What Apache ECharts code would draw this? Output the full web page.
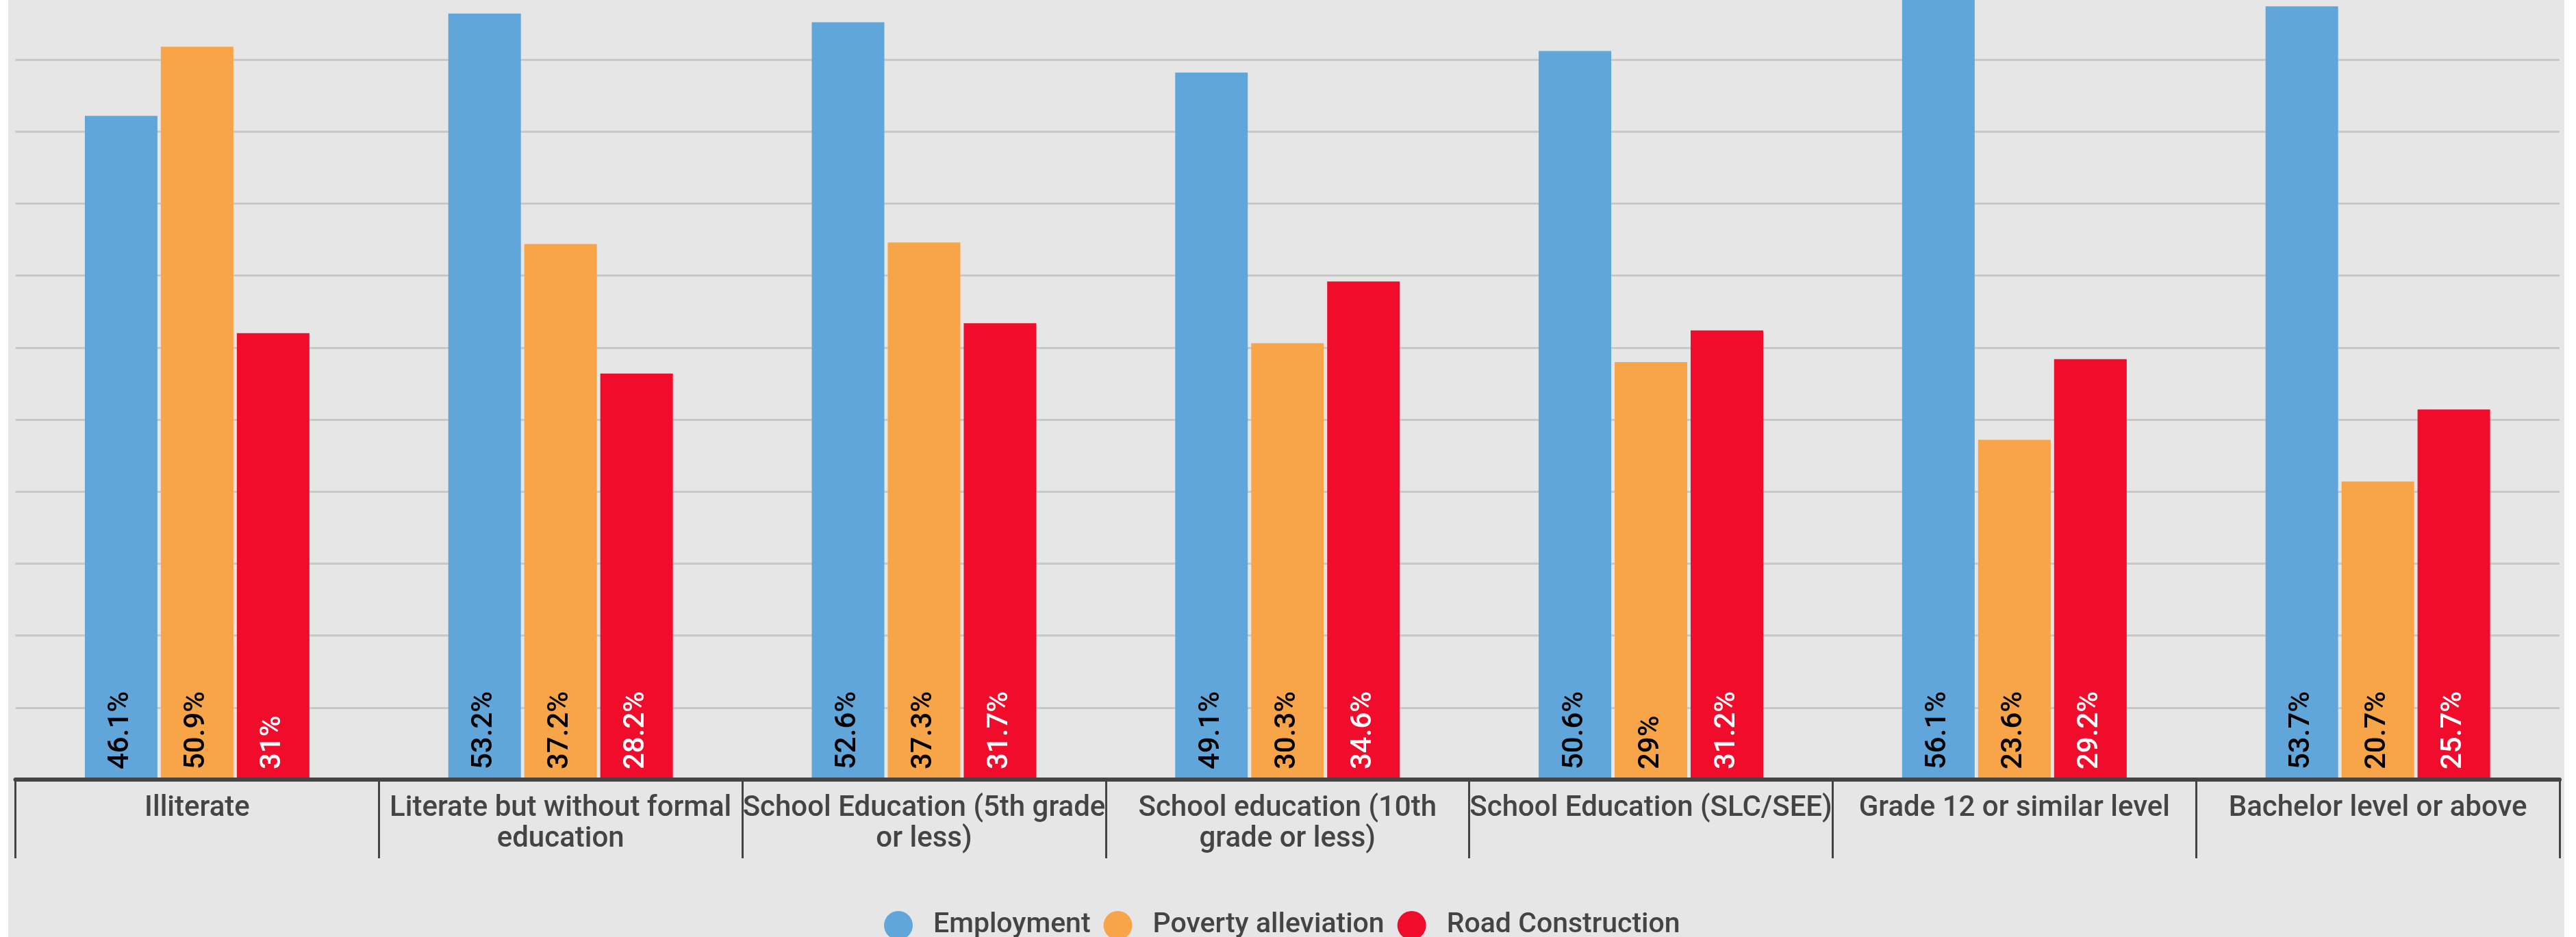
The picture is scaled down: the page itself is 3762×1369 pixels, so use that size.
<!DOCTYPE html>
<html>
<head>
<meta charset="utf-8">
<script src="https://cdn.jsdelivr.net/npm/echarts@6/dist/echarts.min.js"></script>
<style>
html,body{margin:0;padding:0;background:#ffffff;width:3762px;height:1369px;overflow:hidden;position:relative}
#c{position:absolute;left:12px;top:-18px;width:3733px;height:1387px}
</style>
</head>
<body>
<div id="c"></div>
<script>
// Category labels (as wrapped in the original)
const categories = [
  'Illiterate',
  'Literate but without formal\neducation',
  'School Education (5th grade\nor less)',
  'School education (10th\ngrade or less)',
  'School Education (SLC/SEE)',
  'Grade 12 or similar level',
  'Bachelor level or above'
];
const seriesNames = ['Employment', 'Poverty alleviation', 'Road Construction'];
const employment = [46.1, 53.2, 52.6, 49.1, 50.6, 56.1, 53.7];
const povertyAlleviation = [50.9, 37.2, 37.3, 30.3, 29, 23.6, 20.7];
const roadConstruction = [31, 28.2, 31.7, 34.6, 31.2, 29.2, 25.7];

const colors = ['#60a6da', '#f8a448', '#f00c2a'];
const labelColors = ['#000000', '#000000', '#ffffff'];
const values = [employment, povertyAlleviation, roadConstruction];

const FONT = 'Roboto, "Open Sans", sans-serif';
const chart = echarts.init(document.getElementById('c'), null, {renderer: 'canvas'});

const series = values.map((data, i) => ({
  name: seriesNames[i],
  type: 'bar',
  data: data,
  barWidth: 106,
  barGap: '4.7%',
  itemStyle: {color: colors[i]},
  emphasis: {disabled: true},
  label: {
    show: true,
    position: 'insideBottom',
    rotate: 90,
    align: 'left',
    verticalAlign: 'middle',
    distance: 15,
    formatter: '{c}%',
    color: labelColors[i],
    fontFamily: FONT,
    fontWeight: 500,
    fontSize: 42
  }
}));

chart.setOption({
  backgroundColor: '#e6e6e6',
  animation: false,
  color: colors,
  grid: {left: 10.5, right: 7, top: 0, bottom: 230, containLabel: false},
  legend: {
    data: seriesNames,
    left: 1279,
    top: 1349,
    padding: 0,
    icon: 'circle',
    itemWidth: 42,
    itemHeight: 42,
    itemGap: 19,
    textStyle: {color: '#444444', fontFamily: FONT, fontWeight: 500, fontSize: 41, padding: [0, 0, 0, 25]}
  },
  xAxis: {
    type: 'category',
    data: categories,
    z: 10,
    axisLine: {show: true, lineStyle: {color: '#444444', width: 6}},
    axisTick: {show: true, length: 115, lineStyle: {color: '#444444', width: 3}},
    axisLabel: {
      interval: 0,
      margin: 20,
      color: '#444444',
      fontFamily: FONT,
      fontWeight: 500,
      fontSize: 42,
      lineHeight: 45,
      align: 'center'
    }
  },
  yAxis: {
    type: 'value',
    min: 0,
    max: 55,
    interval: 5,
    axisLabel: {show: false},
    axisLine: {show: false},
    axisTick: {show: false},
    splitLine: {show: true, lineStyle: {color: '#c8c8c8', width: 3}}
  },
  series: series
});
</script>
</body>
</html>
